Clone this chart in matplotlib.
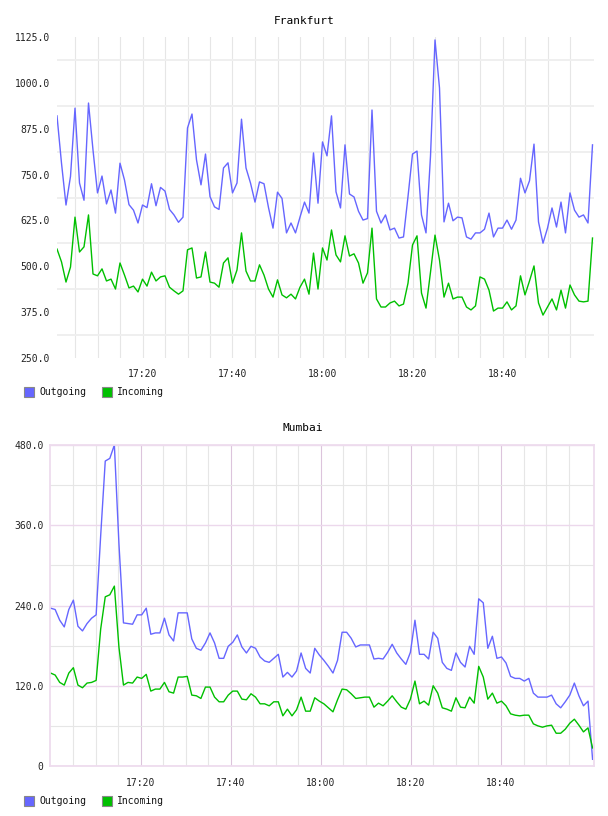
import numpy as np
import pandas as pd
import matplotlib
matplotlib.use("Agg")
import matplotlib.pyplot as plt
import matplotlib.dates as mdates
from matplotlib.patches import Rectangle
from matplotlib.ticker import FixedLocator, FuncFormatter

# --- Configuration ---
W, H = 608, 816
BLUE = '#6666ff'
GREEN = '#00c000'
FONT = 'DejaVu Sans Mono'
GRID_GRAY = '#e6e6e6'
GRID_PINK_V = '#dcc4dc'
GRID_PINK_H = '#ecd8ec'
# --- End Configuration ---

# --- Data (one point per minute) ---
frankfurt_out = [910, 781, 667, 745, 931, 727, 680, 945, 817, 700,
                 746, 670, 708, 645, 781, 735, 668, 653, 618, 667,
                 660, 725, 665, 715, 705, 655, 640, 620, 634, 877,
                 915, 790, 722, 806, 690, 662, 655, 768, 782, 700,
                 727, 901, 768, 727, 675, 730, 725, 660, 604, 702,
                 685, 591, 618, 591, 634, 675, 645, 809, 672, 839,
                 801, 910, 703, 659, 831, 697, 689, 650, 626, 630,
                 926, 650, 618, 640, 599, 604, 577, 580, 690, 806,
                 814, 640, 591, 800, 1117, 986, 621, 672, 624, 634,
                 632, 580, 574, 591, 591, 601, 645, 580, 604, 604,
                 626, 601, 626, 740, 700, 733, 833, 621, 563, 604,
                 659, 607, 675, 591, 700, 653, 634, 640, 618, 831]
frankfurt_in = [547, 512, 457, 498, 634, 539, 553, 640, 479, 474,
                493, 460, 465, 438, 509, 476, 441, 446, 430, 465,
                446, 484, 460, 471, 474, 443, 433, 424, 433, 545,
                550, 468, 471, 539, 457, 454, 443, 509, 523, 454,
                490, 591, 487, 460, 460, 504, 476, 438, 416, 463,
                422, 414, 424, 411, 443, 465, 424, 536, 438, 550,
                517, 599, 531, 512, 583, 528, 534, 509, 454, 482,
                604, 411, 389, 389, 400, 405, 392, 397, 454, 558,
                583, 427, 386, 484, 585, 517, 416, 454, 411, 416,
                416, 389, 381, 392, 471, 465, 435, 378, 386, 386,
                403, 381, 392, 474, 422, 460, 501, 400, 367, 389,
                411, 381, 435, 386, 449, 422, 405, 403, 405, 577]
mumbai_out = [236, 234, 218, 208, 234, 248, 209, 202, 213, 221,
              226, 345, 456, 460, 480, 333, 214, 213, 212, 226,
              226, 236, 197, 199, 199, 221, 196, 187, 229, 229,
              229, 190, 176, 173, 184, 199, 184, 161, 161, 179,
              185, 196, 178, 169, 179, 176, 163, 157, 155, 161,
              167, 133, 140, 133, 142, 169, 146, 139, 176, 166,
              158, 149, 139, 158, 200, 200, 191, 178, 181, 181,
              181, 160, 161, 160, 170, 182, 169, 160, 152, 170,
              218, 167, 167, 160, 200, 191, 155, 146, 143, 169,
              155, 148, 179, 167, 250, 244, 176, 194, 161, 163,
              154, 134, 131, 131, 127, 131, 109, 103, 103, 103,
              106, 93, 87, 96, 106, 124, 105, 90, 97, 10]
mumbai_in = [139, 136, 125, 121, 139, 147, 121, 117, 124, 125,
             128, 205, 253, 256, 269, 178, 121, 125, 124, 133,
             131, 137, 112, 115, 115, 125, 111, 109, 133, 133,
             134, 106, 105, 101, 118, 118, 103, 96, 96, 106,
             112, 112, 100, 99, 108, 103, 93, 93, 90, 96,
             96, 75, 85, 75, 84, 103, 82, 82, 102, 97,
             93, 87, 81, 99, 115, 114, 108, 101, 102, 103,
             103, 88, 94, 90, 97, 105, 96, 88, 85, 100,
             127, 93, 97, 91, 120, 109, 87, 85, 82, 102,
             88, 87, 103, 94, 149, 133, 100, 109, 94, 97,
             90, 78, 76, 75, 76, 76, 63, 60, 58, 60,
             61, 49, 49, 55, 64, 70, 61, 51, 57, 27]

frankfurt_time = pd.date_range('2024-01-01 17:01', periods=len(frankfurt_out), freq='1min')
mumbai_time = pd.date_range('2024-01-01 17:00', '2024-01-01 19:00:20', periods=len(mumbai_out))

frankfurt_yticks = [250, 375, 500, 625, 750, 875, 1000, 1125]
mumbai_yticks = [0, 120, 240, 360, 480]
hour_ticks = ['17:20', '17:40', '18:00', '18:20', '18:40']
series_labels = ['Outgoing', 'Incoming']

major_x = mdates.date2num(pd.to_datetime(['2024-01-01 ' + t for t in hour_ticks]))
minor_x = mdates.date2num(pd.date_range('2024-01-01 17:05', '2024-01-01 18:55', freq='5min'))


def px_axes(fig, left, top, right, bottom):
    """Add an axes given pixel edges (origin top-left)."""
    return fig.add_axes([left / W, 1 - bottom / H, (right - left) / W, (bottom - top) / H])


def fmt_y(v, pos):
    return '0' if v == 0 else f'{v:.1f}'


def style_axes(ax, yticks, pink, xlim, ylabel_pad, xlabel_pad):
    step = yticks[1] - yticks[0]
    ax.set_ylim(yticks[0], yticks[-1])
    ax.set_xlim(xlim)
    ax.yaxis.set_major_locator(FixedLocator(yticks))
    ax.yaxis.set_minor_locator(FixedLocator([t + step / 2 for t in yticks[:-1]]))
    ax.yaxis.set_major_formatter(FuncFormatter(fmt_y))
    ax.xaxis.set_major_locator(FixedLocator(major_x))
    ax.xaxis.set_minor_locator(FixedLocator(minor_x))
    ax.xaxis.set_major_formatter(mdates.DateFormatter('%H:%M'))
    ax.tick_params(axis='both', which='both', length=0, labelsize=7, labelcolor='#222222')
    ax.tick_params(axis='y', pad=ylabel_pad)
    ax.tick_params(axis='x', pad=xlabel_pad)
    for lab in ax.get_xticklabels() + ax.get_yticklabels():
        lab.set_fontfamily(FONT)

    # grid: minor x every 5 min, majors on 20 min
    ax.grid(True, axis='x', which='minor', color=GRID_GRAY, linewidth=0.8)
    if pink:
        ax.grid(True, axis='x', which='major', color=GRID_PINK_V, linewidth=0.8)
        ax.grid(True, axis='y', which='minor', color=GRID_GRAY, linewidth=0.8)
        ax.grid(True, axis='y', which='major', color=GRID_PINK_H, linewidth=1.0)
    else:
        ax.grid(True, axis='x', which='major', color=GRID_GRAY, linewidth=0.8)
        ax.grid(True, axis='y', which='minor', color='#efefef', linewidth=1.4)
    ax.set_axisbelow(True)

    for sp in ax.spines.values():
        if pink:
            sp.set_color('#eedcee')
            sp.set_linewidth(1.3)
        else:
            sp.set_visible(False)


def draw_legend(fig, y_center):
    items = [(24, BLUE, series_labels[0]), (102, GREEN, series_labels[1])]
    for x0, color, label in items:
        fig.add_artist(Rectangle((x0 / W, 1 - (y_center + 5) / H), 10 / W, 10 / H,
                                 transform=fig.transFigure, facecolor=color,
                                 edgecolor='#888888', linewidth=0.8))
        fig.text((x0 + 15) / W, 1 - y_center / H, label, fontsize=7, family=FONT,
                 va='center', ha='left', color='#111111')


fig = plt.figure(figsize=(W / 100, H / 100), dpi=100)
fig.patch.set_facecolor('white')

# --- Frankfurt ---
ax1 = px_axes(fig, 57, 37, 594, 358)
ax1.plot(frankfurt_time, frankfurt_out, color=BLUE, linewidth=1.0)
ax1.plot(frankfurt_time, frankfurt_in, color=GREEN, linewidth=1.0)
style_axes(ax1, frankfurt_yticks, False,
           (pd.Timestamp('2024-01-01 17:01'), pd.Timestamp('2024-01-01 19:00:20')),
           ylabel_pad=5, xlabel_pad=8)
fig.text(304 / W, 1 - 21 / H, 'Frankfurt', fontsize=8, family=FONT, ha='center', va='center')
draw_legend(fig, 392)

# --- Mumbai ---
ax2 = px_axes(fig, 50, 445, 594, 766)
ax2.plot(mumbai_time, mumbai_out, color=BLUE, linewidth=1.0)
ax2.plot(mumbai_time, mumbai_in, color=GREEN, linewidth=1.0)
style_axes(ax2, mumbai_yticks, True,
           (pd.Timestamp('2024-01-01 16:59:52'), pd.Timestamp('2024-01-01 19:00:39')),
           ylabel_pad=4.5, xlabel_pad=9)
fig.text(303 / W, 1 - 428 / H, 'Mumbai', fontsize=8, family=FONT, ha='center', va='center')
draw_legend(fig, 801)

fig.savefig('out.png', dpi=100, facecolor='white')
